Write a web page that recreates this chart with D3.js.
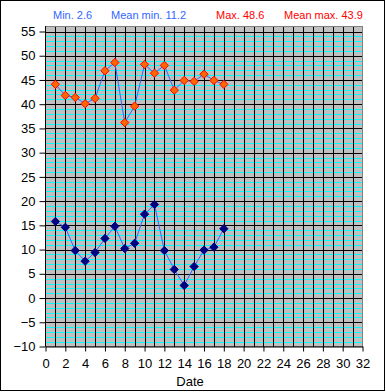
<!DOCTYPE html>
<html>
<head>
<meta charset="utf-8">
<script src="https://cdn.jsdelivr.net/npm/d3@7"></script>
<style>
  body { margin: 0; background: #fff; }
  svg { display: block; font-family: Arial, "Liberation Sans", sans-serif; }
</style>
</head>
<body>
<div id="wrapper"></div>
<script>
// data
const days = [1, 2, 3, 4, 5, 6, 7, 8, 9, 10, 11, 12, 13, 14, 15, 16, 17, 18]
const maxTemps = [44.1, 41.8, 41.4, 40.1, 41.2, 46.9, 48.6, 36.2, 39.6, 48.2, 46.4, 48.0, 42.9, 44.9, 44.7, 46.2, 44.9, 44.1]
const minTemps = [15.8, 14.6, 9.8, 7.6, 9.4, 12.3, 14.8, 10.2, 11.3, 17.3, 19.3, 9.8, 5.9, 2.6, 6.5, 9.9, 10.5, 14.3]
const xTicks = d3.range(0, 33, 2)
const yTicks = d3.range(-10, 56, 5)
const headerItems = [
  { label: "Min. 2.6", color: "#3366ff", x: 53 },
  { label: "Mean min. 11.2", color: "#3366ff", x: 111 },
  { label: "Max. 48.6", color: "#ff0000", x: 216 },
  { label: "Mean max. 43.9", color: "#ff0000", x: 284 },
]

const width = 386
const height = 392
const plotTop = 26

const svg = d3.select("#wrapper").append("svg")
  .attr("width", width)
  .attr("height", height)

// outer frame
svg.append("rect")
  .attr("x", 0.5).attr("y", 0.5)
  .attr("width", 384).attr("height", 390)
  .attr("fill", "#fff").attr("stroke", "#000")

const xScale = d3.scaleLinear().domain([0, 32]).range([45.5, 362.5])
const yScale = d3.scaleLinear().domain([-10, 55]).range([346.5, 31.5])

// plot background
svg.append("rect")
  .attr("x", xScale(0)).attr("y", plotTop + 0.5)
  .attr("width", xScale(32) - xScale(0))
  .attr("height", yScale(-10) - plotTop - 0.5)
  .attr("fill", "#c0c0c0")
  .attr("stroke", "#808080")

const grid = svg.append("g").attr("shape-rendering", "crispEdges")

// cyan minor lines at every unit
grid.selectAll(".minor")
  .data(d3.range(-9, 56).filter(v => v % 5 !== 0))
  .join("line")
  .attr("x1", xScale(0)).attr("x2", xScale(32) - 1)
  .attr("y1", d => Math.round(yScale(d)) + 0.5)
  .attr("y2", d => Math.round(yScale(d)) + 0.5)
  .attr("stroke", "#00ffff")

// black major horizontals
grid.selectAll(".major")
  .data(d3.range(-5, 56, 5))
  .join("line")
  .attr("x1", xScale(0)).attr("x2", xScale(32) - 1)
  .attr("y1", d => Math.round(yScale(d)) + 0.5)
  .attr("y2", d => Math.round(yScale(d)) + 0.5)
  .attr("stroke", "#000")

// black verticals at every day
grid.selectAll(".vert")
  .data(d3.range(1, 32))
  .join("line")
  .attr("x1", d => Math.round(xScale(d)) + 0.5)
  .attr("x2", d => Math.round(xScale(d)) + 0.5)
  .attr("y1", plotTop + 1).attr("y2", yScale(-10))
  .attr("stroke", "#000")

// axes
const yAxis = svg.append("g")
  .attr("transform", `translate(${xScale(0)},0)`)
  .call(d3.axisLeft(yScale).tickValues(yTicks).tickSize(6).tickPadding(4).tickSizeOuter(0))
yAxis.select(".domain").attr("d", `M0,${plotTop}V${yScale(-10)}`)

const xAxis = svg.append("g")
  .attr("transform", `translate(0,${yScale(-10)})`)
  .call(d3.axisBottom(xScale).tickValues(xTicks).tickSize(5).tickPadding(7).tickSizeOuter(0))

svg.selectAll(".tick text")
  .attr("font-size", 13)
  .attr("font-family", "Arial, 'Liberation Sans', sans-serif")
  .attr("fill", "#000")

svg.append("text")
  .attr("x", 190).attr("y", 386)
  .attr("text-anchor", "middle")
  .attr("font-size", 13)
  .text("Date")

// header
svg.selectAll(".header")
  .data(headerItems)
  .join("text")
  .attr("x", d => d.x).attr("y", 19)
  .attr("font-size", 11)
  .attr("fill", d => d.color)
  .text(d => d.label)

// series
const lineGen = d3.line()
  .x(d => xScale(d[0]))
  .y(d => yScale(d[1]))

const series = [
  { values: minTemps, fill: "#000080", stroke: "#000080" },
  { values: maxTemps, fill: "#ff6600", stroke: "#ff0000" },
]

series.forEach(s => {
  const pts = days.map((d, i) => [d, s.values[i]])
  svg.append("path")
    .datum(pts)
    .attr("d", lineGen)
    .attr("fill", "none")
    .attr("stroke", "#3366ff")
    .attr("stroke-width", 1)

  svg.append("g").selectAll("path")
    .data(pts)
    .join("path")
    .attr("d", d3.symbol(d3.symbolDiamond2, 44))
    .attr("transform", d => `translate(${xScale(d[0])},${yScale(d[1])})`)
    .attr("fill", s.fill)
    .attr("stroke", s.stroke)
    .attr("stroke-width", 1)
})
</script>
</body>
</html>
